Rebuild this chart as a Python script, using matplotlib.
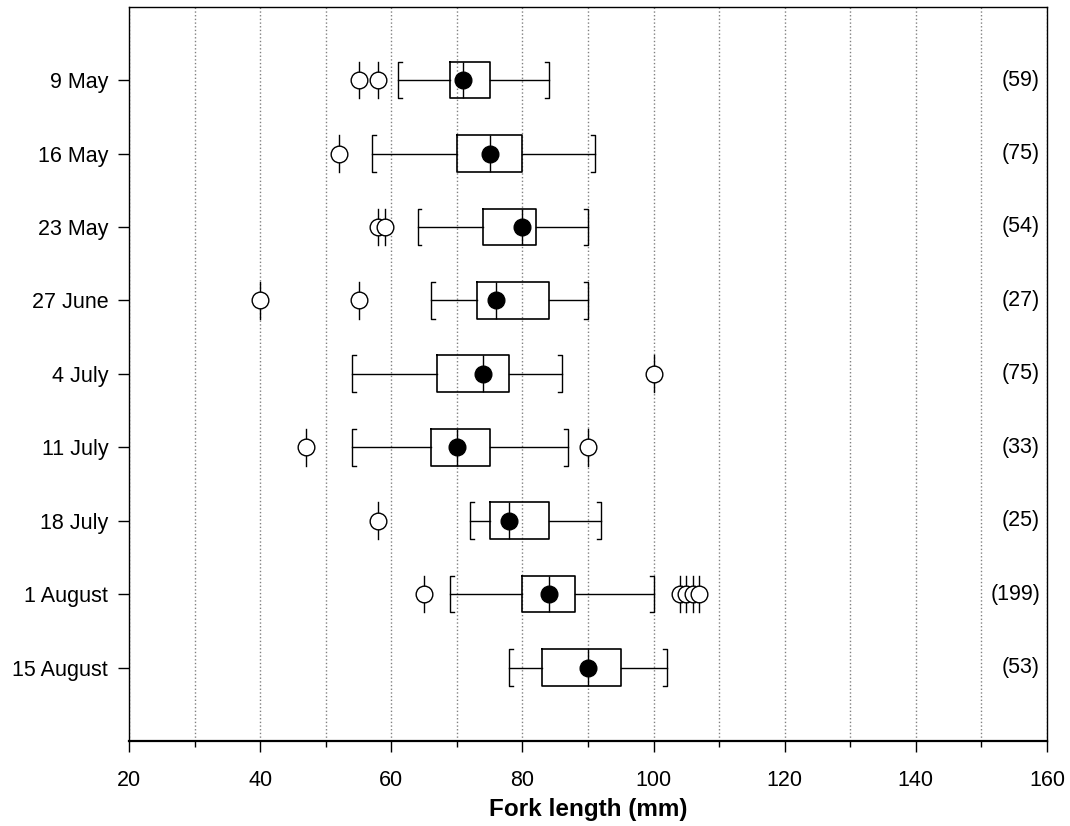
import matplotlib
matplotlib.use('Agg')
import matplotlib.pyplot as plt
import numpy as np
from matplotlib.ticker import MultipleLocator

plt.rcParams['font.family'] = ['Liberation Sans', 'DejaVu Sans']

dates = ['9 May', '16 May', '23 May', '27 June', '4 July', '11 July',
         '18 July', '1 August', '15 August']
counts = [59, 75, 54, 27, 75, 33, 25, 199, 53]
whislo = [61, 57, 64, 66, 54, 54, 72, 69, 78]
q1 = [69, 70, 74, 73, 67, 66, 75, 80, 83]
med = [71, 75, 80, 76, 74, 70, 78, 84, 90]
q3 = [75, 80, 82, 84, 78, 75, 84, 88, 95]
whishi = [84, 91, 90, 90, 86, 87, 92, 100, 102]
means = [71, 75, 80, 76, 74, 70, 78, 84, 90]
outliers = [[55, 58], [52], [58, 59], [40, 55], [100], [47, 90], [58],
            [65, 104, 105, 106, 107], []]

fig = plt.figure(figsize=(10.7, 8.26), dpi=100)
ax = fig.add_axes([0.1206, 0.1029, 0.8579, 0.889])

pos = np.arange(1, len(dates) + 1)
w = 0.5
stats = []
for i in range(len(dates)):
    stats.append(dict(med=med[i], q1=q1[i], q3=q3[i], whislo=whislo[i],
                      whishi=whishi[i], fliers=[], label=dates[i]))
ax.bxp(stats, positions=pos, widths=w, orientation='horizontal',
       showcaps=False, showfliers=False, patch_artist=False,
       boxprops=dict(color='black', linewidth=1.2),
       medianprops=dict(color='black', linewidth=1.0),
       whiskerprops=dict(color='black', linewidth=1.0),
       manage_ticks=False, zorder=3)

# bracket-shaped caps
stub = 0.6
for i, y in enumerate(pos):
    lo, hi = whislo[i], whishi[i]
    ax.plot([lo + stub, lo, lo, lo + stub], [y - w / 2, y - w / 2, y + w / 2, y + w / 2],
            color='black', lw=1.0, zorder=3)
    ax.plot([hi - stub, hi, hi, hi - stub], [y - w / 2, y - w / 2, y + w / 2, y + w / 2],
            color='black', lw=1.0, zorder=3)
    for v in outliers[i]:
        ax.plot([v, v], [y - w / 2, y + w / 2], color='black', lw=1.0, zorder=4)
        ax.plot(v, y, 'o', ms=12, mfc='white', mec='black', mew=1.0, zorder=5)
    ax.plot(means[i], y, 'o', ms=12, mfc='black', mec='black', zorder=6)
    ax.annotate('(%d)' % counts[i], xy=(1, y), xycoords=('axes fraction', 'data'),
                xytext=(-5, 0), textcoords='offset points',
                ha='right', va='center', fontsize=15.5)

ax.set_xlim(20, 160)
ax.set_ylim(10, 0)
ax.set_yticks(pos)
ax.set_yticklabels(dates, fontsize=15.5)
ax.xaxis.set_major_locator(MultipleLocator(20))
ax.xaxis.set_minor_locator(MultipleLocator(10))
ax.tick_params(axis='x', which='major', length=8, width=1, labelsize=15.5, pad=13)
ax.tick_params(axis='x', which='minor', length=4, width=1)
ax.tick_params(axis='y', length=8, width=1, pad=7)
ax.grid(axis='x', which='both', linestyle=':', color='gray', linewidth=1.0, zorder=0)
ax.set_axisbelow(True)
for s in ['left', 'right', 'top']:
    ax.spines[s].set_linewidth(1.0)
ax.spines['bottom'].set_linewidth(1.6)
ax.set_xlabel('Fork length (mm)', fontsize=17.5, fontweight='bold', labelpad=5)

fig.savefig('out.png', dpi=100)
